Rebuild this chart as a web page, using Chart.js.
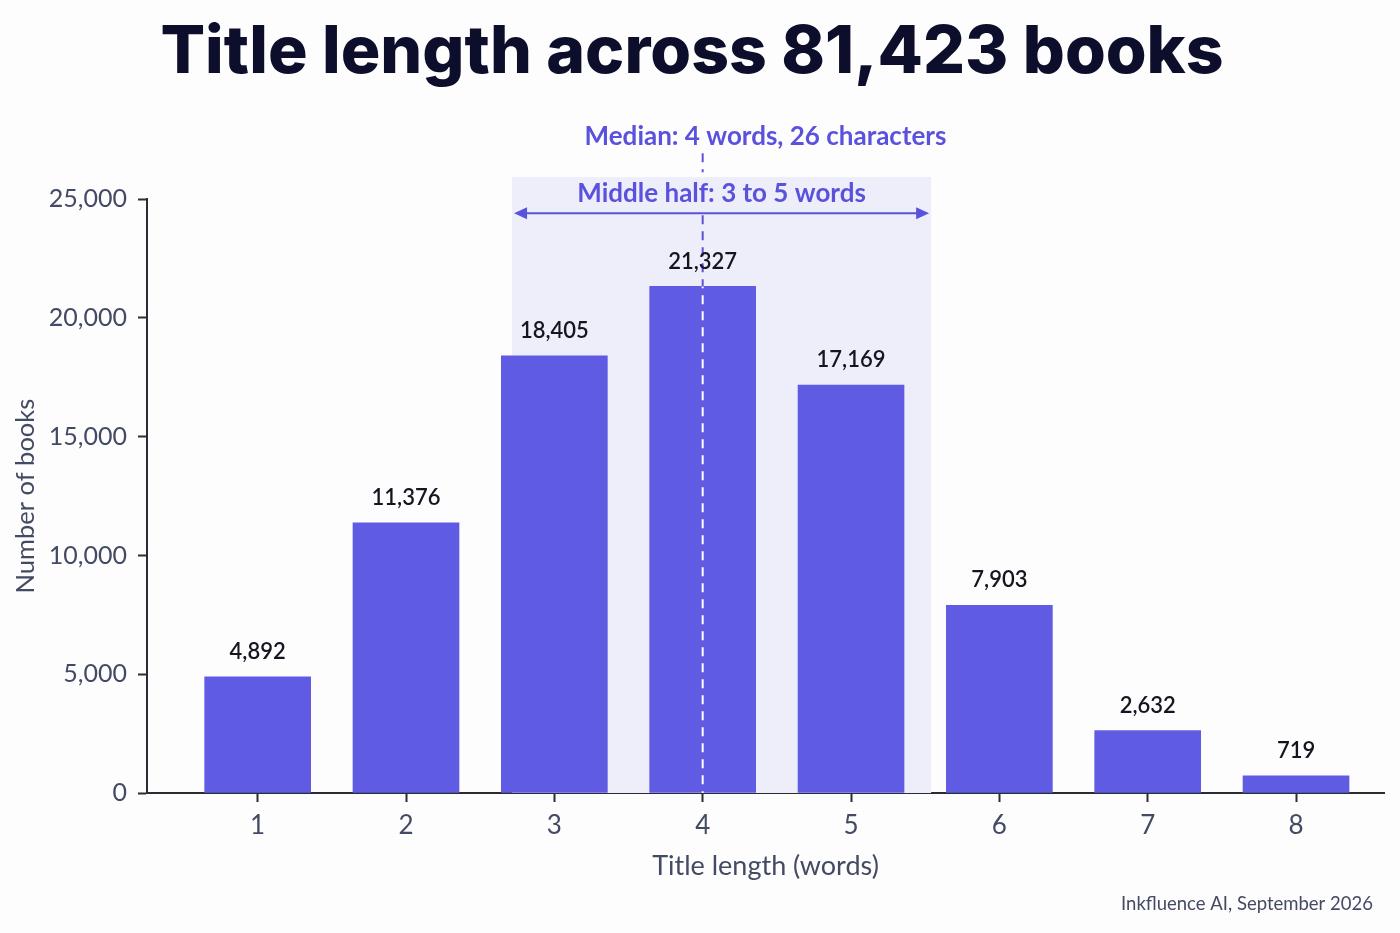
<!DOCTYPE html>
<html>
<head>
<meta charset="utf-8">
<script src="https://cdn.jsdelivr.net/npm/chart.js@4.4.1/dist/chart.umd.min.js"></script>
<style>
    html, body { margin: 0; padding: 0; background: #fdfdfe; }
    #wrap { width: 1400px; height: 933px; }
</style>
</head>
<body>
<div id="wrap"><canvas id="titleChart"></canvas></div>
<script>
const wordCounts = [1, 2, 3, 4, 5, 6, 7, 8];
const bookCounts = [4892, 11376, 18405, 21327, 17169, 7903, 2632, 719];
const yTickValues = [0, 5000, 10000, 15000, 20000, 25000];
const medianWords = 4;
const middleHalfSpan = [2.715, 5.54];   // shaded band, in axis units
const middleHalfTop = 25930;
const medianLabel = 'Median: 4 words, 26 characters';
const middleHalfLabel = 'Middle half: 3 to 5 words';
const sourceLabel = 'Inkfluence AI, September 2026';

const accent = '#5a52dc';
const barColor = '#5f5ce3';
const bandColor = '#eeeefb';
const axisText = '#434a63';
const bodyFont = 'Lato';

function fmt(v) {
    return Number(v).toLocaleString('en-US');
}

function dashedLine(ctx, x, y0, y1) {
    ctx.beginPath();
    ctx.moveTo(x, y0);
    ctx.lineTo(x, y1);
    ctx.stroke();
}

const annotations = {
    id: 'annotations',
    beforeDatasetsDraw(chart) {
        const { ctx, chartArea, scales: { x, y } } = chart;
        const left = x.getPixelForValue(middleHalfSpan[0]);
        const right = x.getPixelForValue(middleHalfSpan[1]);
        const top = y.getPixelForValue(middleHalfTop);
        const bottom = y.getPixelForValue(0);
        ctx.save();
        ctx.fillStyle = bandColor;
        ctx.fillRect(left, top, right - left, bottom - top);

        // median line (purple part), broken where the band label sits
        const mx = x.getPixelForValue(medianWords);
        ctx.strokeStyle = accent;
        ctx.lineWidth = 2;
        ctx.setLineDash([9, 7]);
        dashedLine(ctx, mx, chartArea.top - 46, chartArea.top - 27);
        dashedLine(ctx, mx, chartArea.top + 16, bottom);
        ctx.restore();
    },
    afterDatasetsDraw(chart) {
        const { ctx, chartArea, scales: { x, y } } = chart;
        const meta = chart.getDatasetMeta(0);
        const mx = x.getPixelForValue(medianWords);
        const bottom = y.getPixelForValue(0);
        ctx.save();

        // white dashes where the median line crosses its bar
        const medianBar = meta.data[wordCounts.indexOf(medianWords)];
        ctx.save();
        ctx.beginPath();
        ctx.rect(medianBar.x - medianBar.width / 2, medianBar.y, medianBar.width, bottom - medianBar.y);
        ctx.clip();
        ctx.strokeStyle = '#ffffff';
        ctx.lineWidth = 2;
        ctx.setLineDash([9, 7]);
        dashedLine(ctx, mx, chartArea.top + 16, bottom);
        ctx.restore();

        // value labels
        ctx.fillStyle = '#14151f';
        ctx.font = '600 22px ' + bodyFont;
        ctx.textAlign = 'center';
        ctx.textBaseline = 'middle';
        meta.data.forEach((bar, i) => {
            ctx.fillText(fmt(bookCounts[i]), bar.x, bar.y - 25);
        });

        // double arrow across the middle half
        const left = x.getPixelForValue(middleHalfSpan[0]) + 2;
        const right = x.getPixelForValue(middleHalfSpan[1]) - 2;
        const ay = chartArea.top + 14;
        ctx.strokeStyle = accent;
        ctx.fillStyle = accent;
        ctx.lineWidth = 2;
        ctx.beginPath();
        ctx.moveTo(left + 8, ay);
        ctx.lineTo(right - 8, ay);
        ctx.stroke();
        ctx.beginPath();
        ctx.moveTo(left, ay);
        ctx.lineTo(left + 13, ay - 6);
        ctx.lineTo(left + 13, ay + 6);
        ctx.closePath();
        ctx.fill();
        ctx.beginPath();
        ctx.moveTo(right, ay);
        ctx.lineTo(right - 13, ay - 6);
        ctx.lineTo(right - 13, ay + 6);
        ctx.closePath();
        ctx.fill();

        // annotation texts
        ctx.font = '700 26px ' + bodyFont;
        ctx.fillStyle = accent;
        ctx.fillText(middleHalfLabel, (left + right) / 2, chartArea.top - 6);
        ctx.fillText(medianLabel, (chartArea.left + chartArea.right) / 2, chartArea.top - 63);

        ctx.restore();
    },
    afterDraw(chart) {
        const { ctx } = chart;
        ctx.save();
        ctx.font = '400 18.5px ' + bodyFont;
        ctx.fillStyle = axisText;
        ctx.textAlign = 'right';
        ctx.textBaseline = 'middle';
        ctx.fillText(sourceLabel, chart.width - 27, chart.height - 29);
        ctx.restore();
    }
};

const ctx = document.getElementById('titleChart').getContext('2d');
const titleChart = new Chart(ctx, {
    type: 'bar',
    data: {
        datasets: [{
            label: 'Books',
            data: wordCounts.map((w, i) => ({ x: w, y: bookCounts[i] })),
            backgroundColor: barColor,
            borderWidth: 0,
            barThickness: 106
        }]
    },
    options: {
        responsive: true,
        maintainAspectRatio: false,
        animation: false,
        layout: {
            padding: { left: 0, right: 16, top: 0, bottom: 0 }
        },
        plugins: {
            legend: { display: false },
            tooltip: { enabled: false },
            title: {
                display: true,
                text: 'Title length across 81,423 books',
                color: '#0d0e2b',
                font: { family: 'Inter', size: 66, weight: '800' },
                padding: { top: 14, bottom: 106 }
            }
        },
        scales: {
            x: {
                type: 'linear',
                offset: false,
                min: 0.254,
                max: 8.593,
                afterBuildTicks: scale => {
                    scale.ticks = wordCounts.map(v => ({ value: v }));
                },
                afterFit: scale => { scale.height = 140; },
                grid: {
                    offset: false,
                    drawOnChartArea: false,
                    tickLength: 9,
                    tickColor: '#2b2d35',
                    tickWidth: 2
                },
                border: { color: '#2b2d35', width: 2 },
                ticks: {
                    color: axisText,
                    font: { family: bodyFont, size: 26 },
                    padding: 8
                },
                title: {
                    display: true,
                    text: 'Title length (words)',
                    color: axisText,
                    font: { family: bodyFont, size: 27 },
                    padding: { top: 0, bottom: 51 }
                }
            },
            y: {
                min: 0,
                max: 25000,
                afterBuildTicks: scale => {
                    scale.ticks = yTickValues.map(v => ({ value: v }));
                },
                afterFit: scale => { scale.width = 147; },
                grid: {
                    drawOnChartArea: false,
                    tickLength: 9,
                    tickColor: '#2b2d35',
                    tickWidth: 2
                },
                border: { color: '#2b2d35', width: 2 },
                ticks: {
                    color: axisText,
                    font: { family: bodyFont, size: 25 },
                    padding: 11,
                    callback: v => fmt(v)
                },
                title: {
                    display: true,
                    text: 'Number of books',
                    color: axisText,
                    font: { family: bodyFont, size: 25.5 },
                    padding: { top: 10, bottom: 0 }
                }
            }
        }
    },
    plugins: [annotations]
});
</script>
</body>
</html>
